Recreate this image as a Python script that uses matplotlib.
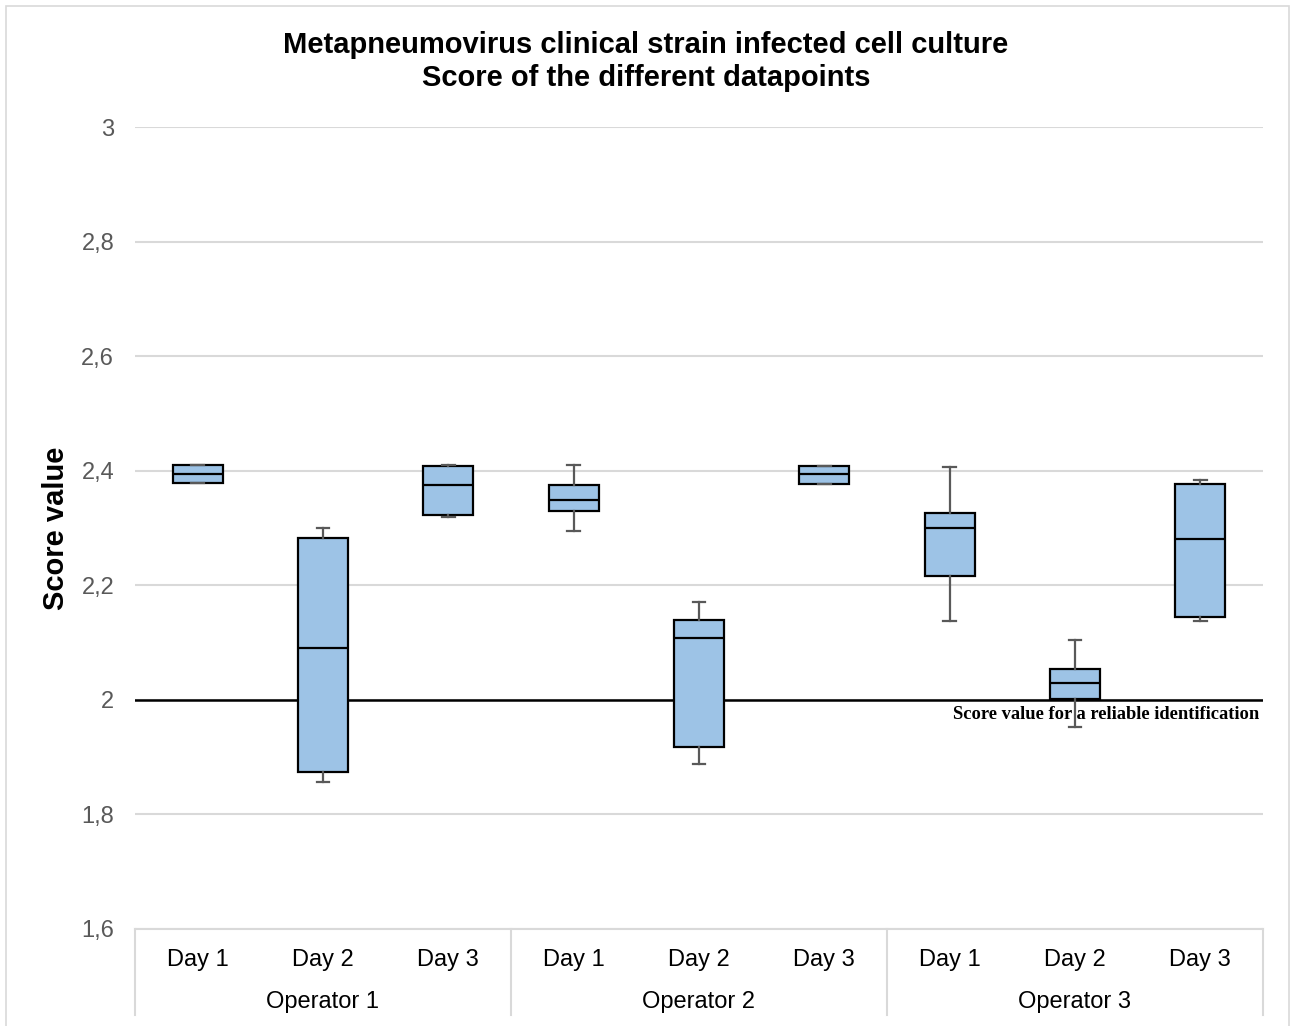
import matplotlib
matplotlib.use("Agg")
import matplotlib.pyplot as plt
import matplotlib.transforms as transforms
from matplotlib.patches import Rectangle
from matplotlib.ticker import FuncFormatter

plt.rcParams["font.family"] = ["Liberation Sans", "DejaVu Sans"]

# ── data ──────────────────────────────────────────────────────────────────────
operators = ["Operator 1", "Operator 2", "Operator 3"]
days = ["Day 1", "Day 2", "Day 3"]

whisker_low = [2.378, 1.857, 2.319, 2.295, 1.888, 2.377, 2.137, 1.952, 2.137]
q1          = [2.378, 1.874, 2.322, 2.330, 1.918, 2.377, 2.217, 2.002, 2.145]
median      = [2.395, 2.090, 2.375, 2.349, 2.108, 2.394, 2.300, 2.030, 2.280]
q3          = [2.410, 2.282, 2.408, 2.375, 2.139, 2.409, 2.326, 2.054, 2.377]
whisker_hi  = [2.410, 2.300, 2.410, 2.410, 2.171, 2.409, 2.407, 2.104, 2.384]

threshold = 2.0
threshold_label = "Score value for a reliable identification"
y_ticks = [1.6, 1.8, 2.0, 2.2, 2.4, 2.6, 2.8, 3.0]

FILL = "#9DC3E6"
GRID = "#D9D9D9"
TICK_GRAY = "#595959"

W, H = 1292, 1026
fig = plt.figure(figsize=(W / 100, H / 100), dpi=100)
ax = fig.add_axes([135 / W, 1 - 929 / H, (1263 - 135) / W, (929 - 127) / H])

# outer chart border
fig.patches.append(Rectangle((6 / W, -0.05), (1289 - 6) / W, 1.05 - 6 / H,
                             transform=fig.transFigure, fill=False,
                             edgecolor=GRID, linewidth=1.2))

stats = []
for i in range(len(median)):
    stats.append(dict(whislo=whisker_low[i], q1=q1[i], med=median[i],
                      q3=q3[i], whishi=whisker_hi[i], fliers=[]))

positions = list(range(len(stats)))
ax.bxp(stats, positions=positions, widths=0.4, capwidths=0.1,
       patch_artist=True, showfliers=False,
       boxprops=dict(facecolor=FILL, edgecolor="black", linewidth=1.6),
       medianprops=dict(color="black", linewidth=1.6),
       whiskerprops=dict(color=TICK_GRAY, linewidth=1.6),
       capprops=dict(color=TICK_GRAY, linewidth=1.6),
       zorder=3)

# reliability threshold
ax.axhline(threshold, color="black", linewidth=1.8, zorder=2)
ax.text(8.47, threshold - 0.011, threshold_label, ha="right", va="top",
        fontsize=13.3, fontweight="bold", family=["Liberation Serif"], zorder=1)

ax.set_xlim(-0.5, 8.5)
ax.set_ylim(1.6, 3.0)
ax.set_yticks(y_ticks)
ax.yaxis.set_major_formatter(FuncFormatter(lambda v, p: f"{v:g}".replace(".", ",")))
ax.tick_params(axis="y", length=0, labelsize=17, labelcolor=TICK_GRAY, pad=15)
ax.grid(axis="y", color=GRID, linewidth=1.5, zorder=0)
ax.set_axisbelow(True)

ax.set_xticks(positions)
ax.set_xticklabels(days * len(operators))
ax.tick_params(axis="x", length=0, labelsize=17, pad=14.5)

for side in ["left", "right", "top"]:
    ax.spines[side].set_visible(False)
ax.spines["bottom"].set_color(GRID)
ax.spines["bottom"].set_linewidth(1.5)

# operator group labels and separators
trans = transforms.blended_transform_factory(ax.transData, ax.transAxes)
for b in [-0.5, 2.5, 5.5, 8.5]:
    ax.plot([b, b], [0, -0.107], transform=trans, color=GRID,
            linewidth=1.5, clip_on=False)
for k, op in enumerate(operators):
    ax.text(3 * k + 1, -0.0915, op, transform=trans, ha="center", va="center",
            fontsize=17)

ax.set_ylabel("Score value", fontsize=21, fontweight="bold")
ax.yaxis.set_label_coords(-0.0576, 0.5)

fig.text(646 / W, 1 - 45 / H, "Metapneumovirus clinical strain infected cell culture",
         ha="center", va="center", fontsize=21, fontweight="bold")
fig.text(646 / W, 1 - 78 / H, "Score of the different datapoints",
         ha="center", va="center", fontsize=21, fontweight="bold")

fig.savefig("out.png", dpi=100)
